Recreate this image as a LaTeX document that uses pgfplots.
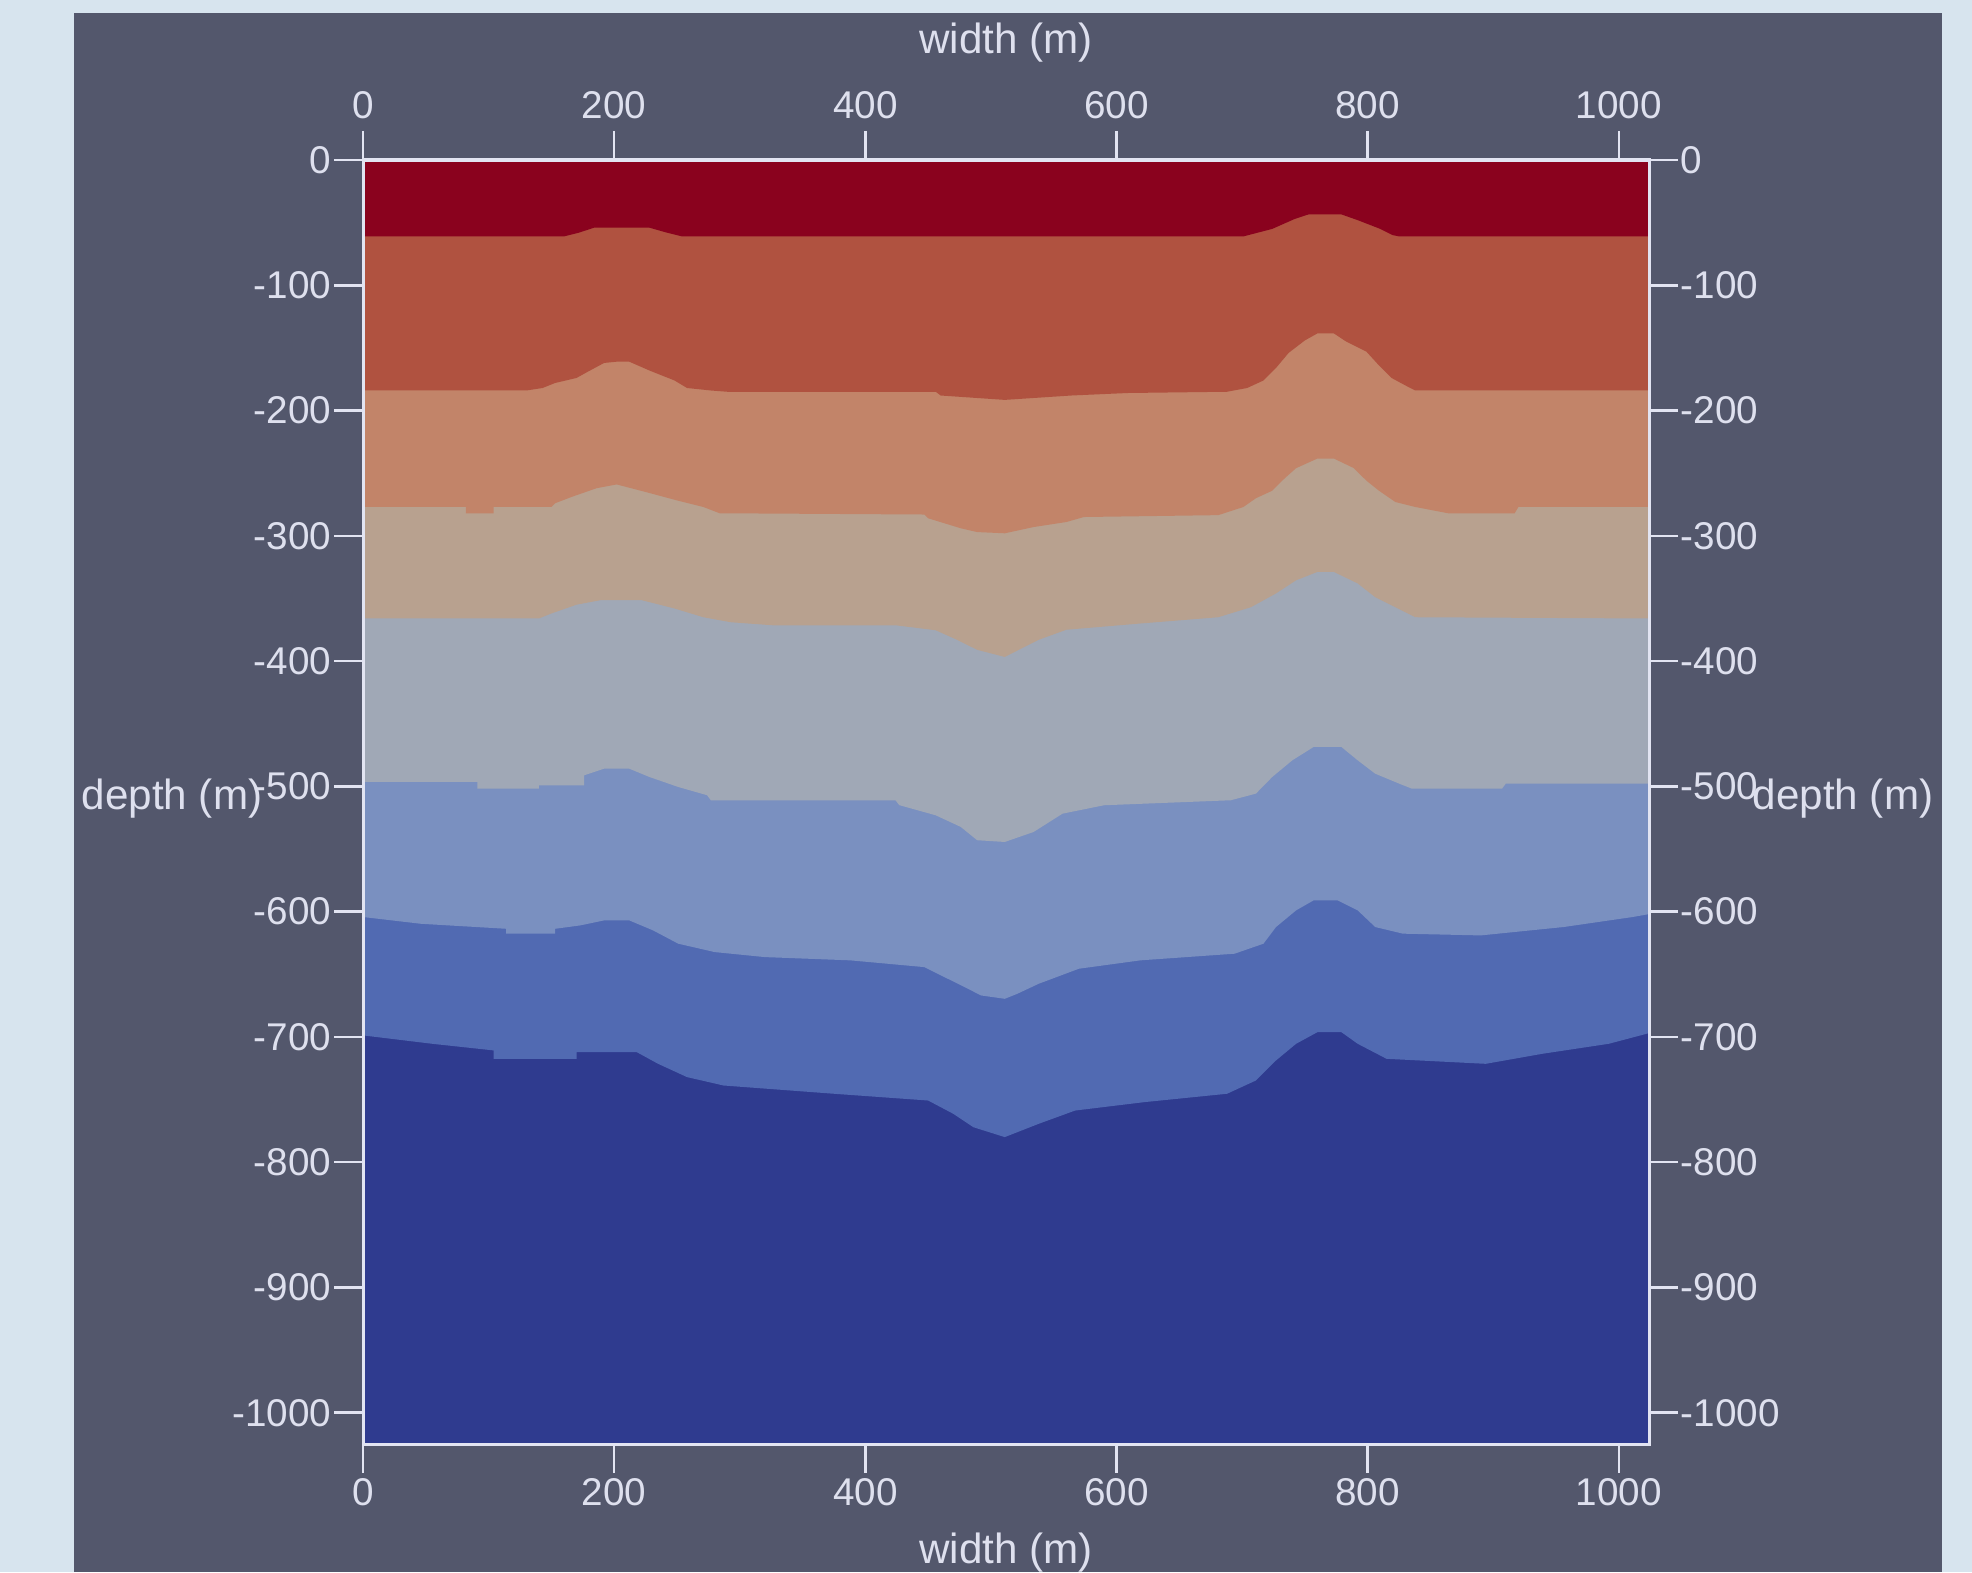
\documentclass[border=0pt]{standalone}
\usepackage{fontspec}
\setmainfont{Liberation Sans}
\usepackage{pgfplots}
\pgfplotsset{compat=1.18}
\definecolor{outerbg}{RGB}{215,228,238}
\definecolor{panel}{RGB}{83,87,108}
\definecolor{axc}{RGB}{226,228,242}
\definecolor{txt}{RGB}{222,224,238}
\definecolor{c1}{RGB}{138,2,30}
\definecolor{c2}{RGB}{176,82,64}
\definecolor{c3}{RGB}{194,132,105}
\definecolor{c4}{RGB}{184,161,143}
\definecolor{c5}{RGB}{160,168,182}
\definecolor{c6}{RGB}{122,144,192}
\definecolor{c7}{RGB}{81,106,178}
\definecolor{c8}{RGB}{47,59,143}
\pgfplotsset{
  common/.style={
    scale only axis, width=128.6mm, height=128.4mm,
    at={(36.3mm,12.8mm)}, anchor=south west,
    xmin=0, xmax=1024, ymin=-1025, ymax=0,
    xtick={0,200,...,1000}, ytick={-1000,-900,...,0},
    tick align=outside, major tick length=2.9mm,
    axis line style={draw=axc, line width=0.3mm},
    major tick style={draw=axc, line width=0.25mm},
    tick label style={font=\fontsize{11}{13}\selectfont, text=txt},
    /pgf/number format/assume math mode=true,
    /pgf/number format/1000 sep={},
    label style={font=\fontsize{12}{14}\selectfont, text=txt},
  }
}
\begin{document}
\begin{tikzpicture}
\path[use as bounding box, fill=outerbg] (0,0) rectangle (197.2mm,157.2mm);
\fill[panel] (7.4mm,0) rectangle (194.2mm,155.9mm);
\begin{axis}[common,
  axis on top,
  axis background/.style={fill=c8},
  xtick pos=left, ytick pos=left,
  xticklabel style={inner sep=0.5mm},
  yticklabel style={inner sep=0.2mm},
  xlabel={width (m)},
  xlabel style={at={(axis description cs:0.5,0)}, anchor=north, inner sep=0pt, yshift=-8.8mm},
  ylabel={depth (m)},
  ylabel style={at={(axis description cs:0,0.5)}, anchor=center, rotate=-90, xshift=-19.1mm, yshift=0.3mm},
]
% medium blue above boundary 7
\addplot[fill=c7, draw=none] coordinates {(0,-698.8) (55,-705.5) (104,-710.8) (104,-717.5) (170,-717.5) (170,-712.2) (218,-712.2) (235,-721.5) (258,-732.1) (287,-738.8) (375,-745.4) (450,-750.8) (470,-761.4) (486,-772.1) (511,-780) (538,-769.4) (567,-758.8) (622,-752.1) (688,-745.4) (711,-734.8) (727,-718.8) (743,-705.5) (760,-696.2) (779,-696.2) (792,-705.5) (815,-717.5) (894,-721.5) (939,-713.5) (992,-705.5) (1024,-697)} \closedcycle;
% light blue above boundary 6
\addplot[fill=c6, draw=none] coordinates {(0,-604.3) (46,-609.7) (114,-613.7) (114,-617.6) (153,-617.6) (153,-613.7) (173,-611) (192,-607) (212,-607) (231,-615) (251,-625.6) (280,-632.3) (320,-636.3) (388,-638.9) (447,-644.3) (463,-652.3) (479,-660.2) (492,-666.9) (511,-669.6) (521,-665.6) (538,-657.6) (570,-645.6) (619,-638.9) (694,-633.6) (717,-625.6) (727,-612.3) (743,-599) (757,-591) (776,-591) (792,-599) (806,-612.3) (828,-617.6) (890,-619) (956,-612.3) (1011,-604.3) (1024,-602)} \closedcycle;
% gray-blue above boundary 5
\addplot[fill=c5, draw=none] coordinates {(0,-496.5) (91,-496.5) (91,-501.8) (140,-501.8) (140,-499.2) (176,-499.2) (176,-491.2) (192,-485.9) (212,-485.9) (228,-492.5) (251,-500.5) (274,-507.1) (277,-511.1) (424,-511.1) (427,-515) (456,-523.1) (476,-532.4) (489,-543) (511,-544.4) (534,-536.4) (557,-521.8) (590,-515.1) (691,-511.1) (711,-505.8) (724,-492.5) (740,-479.2) (757,-468.5) (779,-468.5) (792,-479.2) (806,-489.9) (825,-497.8) (835,-501.8) (907,-501.8) (910,-497.8) (1024,-497.8)} \closedcycle;
% tan above boundary 4
\addplot[fill=c4, draw=none] coordinates {(0,-366) (140,-366) (150,-362) (170,-355) (189,-351.4) (222,-351.4) (248,-358) (271,-365) (293,-369) (326,-371.4) (424,-371.4) (456,-375.4) (473,-383) (489,-391) (511,-396.7) (538,-383) (560,-375) (619,-370) (681,-365) (707,-357) (727,-346) (743,-335.5) (760,-328.8) (773,-328.8) (792,-338) (806,-349) (822,-357) (838,-365) (1024,-366)} \closedcycle;
% salmon above boundary 3
\addplot[fill=c3, draw=none] coordinates {(0,-277) (82,-277) (82,-282) (104,-282) (104,-277) (150,-277) (153,-274) (166,-269) (186,-262) (202,-259) (225,-265) (251,-272) (271,-277) (284,-282) (447,-283) (450,-286) (463,-290) (476,-294) (489,-297) (511,-298) (534,-293) (560,-289) (574,-285) (681,-283.5) (701,-277) (711,-270) (724,-264) (734,-254) (743,-246) (760,-238.3) (773,-238.3) (789,-246) (799,-256) (809,-264) (822,-273) (838,-277) (864,-282) (917,-282) (920,-277) (1024,-277)} \closedcycle;
% red-orange above boundary 2
\addplot[fill=c2, draw=none] coordinates {(0,-184) (130,-184) (143,-182) (153,-178) (170,-174) (179,-169) (192,-162) (202,-161) (212,-161) (228,-168) (248,-176) (258,-182) (277,-184) (290,-185) (456,-185) (460,-188) (511,-191.5) (564,-188) (609,-186) (688,-185) (704,-182) (717,-176) (727,-166) (737,-154) (750,-144) (760,-138.4) (773,-138.4) (783,-145) (799,-153) (809,-164) (819,-174) (832,-181) (838,-184) (1024,-184)} \closedcycle;
% dark red above boundary 1
\addplot[fill=c1, draw=none] coordinates {(0,-61) (160,-61) (172,-58) (184,-54) (228,-54) (242,-58) (254,-61) (701,-61) (724,-55) (742,-47) (753,-43.4) (779,-43.4) (792,-48) (810,-55) (820,-60) (825,-61) (1024,-61)} \closedcycle;
\end{axis}
\begin{axis}[common,
  xtick pos=right, ytick pos=right,
  xticklabel pos=right, yticklabel pos=right,
  xticklabel style={inner sep=1.1mm},
  yticklabel style={inner sep=0.2mm},
  xlabel={width (m)},
  xlabel style={at={(axis description cs:0.5,1)}, anchor=center, yshift=11.7mm},
  ylabel={depth (m)},
  ylabel style={at={(axis description cs:1,0.5)}, anchor=center, rotate=-90, xshift=19.4mm, yshift=0.3mm},
]
\end{axis}
\end{tikzpicture}
\end{document}
